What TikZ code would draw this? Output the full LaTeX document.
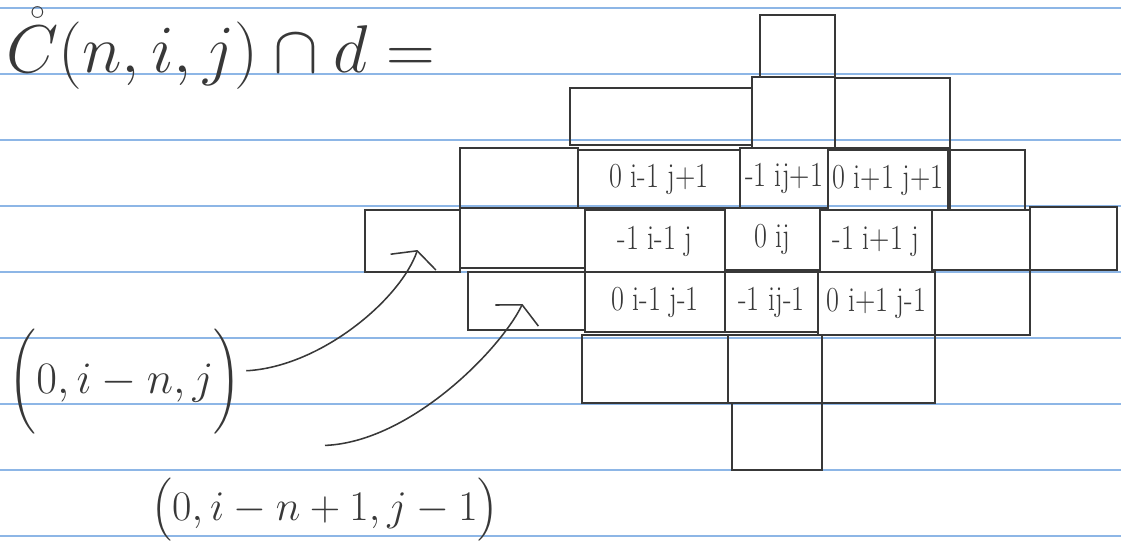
\RequirePackage{fix-cm}
\documentclass[tikz,border=0pt]{standalone}
\usepackage{amsmath}
\usepackage{tikz}
\usetikzlibrary{arrows.meta}
\definecolor{cink}{HTML}{383838}
\definecolor{crule}{HTML}{8DB6E6}
\tikzset{
  cellbox/.style={draw=cink,line width=1.1pt,inner sep=0pt},
  celltext/.style={font=\fontsize{25}{27}\selectfont,text=cink,inner sep=0pt,xscale=0.8,transform shape},
  rule/.style={crule,line width=1pt},
  arr/.style={draw=cink,line width=1.1pt,-{Straight Barb[length=3mm,width=12mm]}},
}

\begin{document}
\begin{tikzpicture}[x=0.025cm,y=-0.025cm]
\useasboundingbox (0,0) rectangle (1121,546);

% ===== ruled paper =====
\foreach \y in {8,74,...,536}
  \draw[rule] (0,\y) -- (1121,\y);

% ===== title =====
\node[anchor=base west,inner sep=0pt,text=cink,font=\fontsize{48}{52}\selectfont] (title) at (6,72) {$\mathring{C}(n,i,j)\cap d =$};

% ===== the cells (name/left/top/right/bottom/text) =====
\foreach \nm/\xa/\ya/\xb/\yb/\txt in {
    top/760/15/835/77/{},
    b1/570/88/752/145/{}, b2/752/77/835/148/{}, b3/835/78/950/148/{},
    c1/460/148/578/208/{}, c2/578/150/740/208/{0 i-1 j+1}, c3/740/148/828/208/{-1 ij+1},
    c4/828/150/948/210/{0 i+1 j+1}, c5/950/150/1025/210/{},
    d1/365/210/460/272/{}, d2/460/208/585/268/{}, d3/585/210/725/272/{-1 i-1 j},
    d4/725/208/820/270/{0 ij}, d5/820/210/932/272/{-1 i+1 j}, d6/932/210/1030/270/{},
    d7/1030/207/1117/270/{},
    e1/468/272/585/330/{}, e2/585/272/725/332/{0 i-1 j-1}, e3/725/272/818/332/{-1 ij-1},
    e4/818/272/935/335/{0 i+1 j-1}, e5/935/270/1030/335/{},
    f1/582/335/728/403/{}, f2/728/335/822/403/{}, f3/822/335/935/403/{},
    g1/732/403/822/470/{}}
  \node[cellbox,minimum width={(\xb-\xa)*0.025cm},minimum height={(\yb-\ya)*0.025cm},
        label={[celltext]center:\txt}] (\nm) at ({(\xa+\xb)/2},{(\ya+\yb)/2}) {};

% ===== labels and arrows =====
\node[text=cink,font=\fontsize{32}{36}\selectfont] (labA) at (125,382) {$\biggl(0, i-n, j\biggr)$};
\node[text=cink,font=\fontsize{30}{34}\selectfont] (labB) at (325,510) {$\bigl(0, i-n+1, j-1\bigr)$};

\draw[arr] ([yshift=8pt]labA.east) .. controls (320,367) and (400,300) .. ([shift={(5,9)}]d1.center);
\draw[arr] ([yshift=20pt]labB.north) .. controls (410,442) and (500,350) .. ([shift={(-4,3)}]e1.center);

\end{tikzpicture}
\end{document}
